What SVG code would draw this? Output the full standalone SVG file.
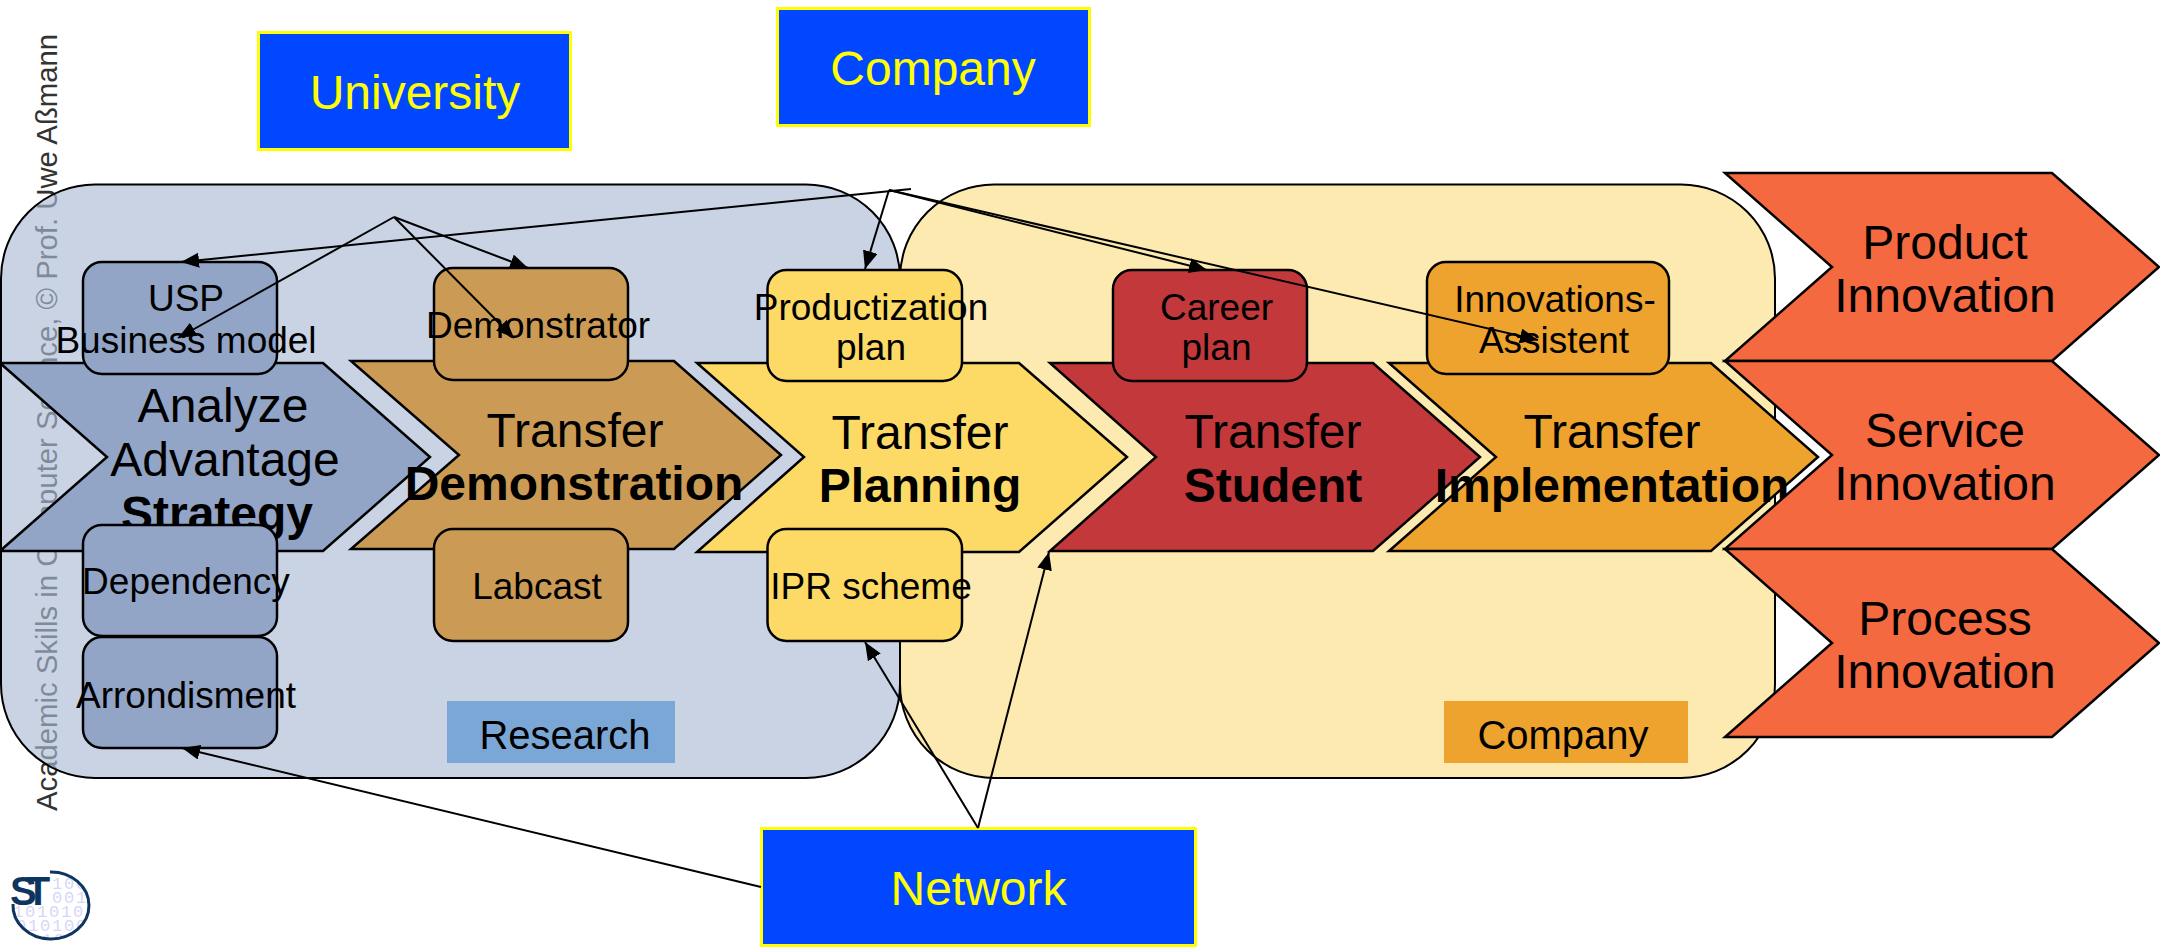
<svg xmlns="http://www.w3.org/2000/svg" width="2160" height="947" viewBox="0 0 2160 947">
<style>
text{font-family:"Liberation Sans",Arial,sans-serif;text-anchor:middle;fill:#000}
.big{font-size:48px}
.bold{font-weight:bold}
.small{font-size:37px}
.label{font-size:40px}
.box{stroke:#000;stroke-width:2.5}
.chev{stroke:#000;stroke-width:2.5;stroke-linejoin:miter}
.blue{fill:#92a5c6}
.brown{fill:#cb9b55}
.yellow{fill:#fdd966}
.red{fill:#c3383b}
.orange{fill:#eea32f}
.tomato{fill:#f4693f}
.actor{fill:#0047ff;stroke:#ffff00;stroke-width:3}
.actor-t{fill:#ffff00;font-size:48px}
.conn{fill:none;stroke:#000;stroke-width:2;marker-end:url(#head)}
.bin{font-family:"Liberation Mono",monospace;font-size:17px;letter-spacing:1.8px;fill:#d6d7fa;text-anchor:start}
</style>
<defs>
<marker id="head" markerUnits="userSpaceOnUse" markerWidth="20" markerHeight="18" refX="18" refY="7.500" orient="auto"><path d="M0,0 L18,7.500 L0,15 Z" fill="#000"/></marker>
<clipPath id="logoclip"><ellipse cx="51" cy="905.500" rx="38" ry="33.500"/></clipPath>
</defs>
<rect width="2160" height="947" fill="#fff"/>

<g id="sidebar">
<text transform="translate(57 811) rotate(-90)" font-size="29.300" style="text-anchor:start;fill:#333">Academic Skills in Computer Science, © Prof. Uwe Aßmann</text>
</g>
<g id="logo">
<g clip-path="url(#logoclip)">
<text class="bin" x="52" y="889">100</text>
<text class="bin" x="52" y="903">001</text>
<text class="bin" x="13" y="917">101010</text>
<text class="bin" x="16" y="931">010100</text>
<text class="bin" x="42" y="945">10</text>
</g>
<path d="M50,872 A38,33.500 0 1 1 13,904" fill="none" stroke="#0e3560" stroke-width="3"/>
<text x="10" y="905" font-size="40" class="bold" letter-spacing="-11" style="fill:#0e3560;text-anchor:start">ST</text>
</g>

<g id="region-research"><rect x="1" y="184.500" width="899" height="593.500" rx="94" ry="94" fill="#abbad5" fill-opacity="0.64" stroke="#000" stroke-width="2"/></g>
<g id="region-company"><rect x="900" y="184.500" width="875" height="593.500" rx="94" ry="94" fill="#fdeab0" stroke="#000" stroke-width="2"/></g>
<g id="label-research"><rect x="447" y="701" width="228" height="62" fill="#7ba7d7"/><text class="label" x="565" y="749">Research</text></g>
<g id="label-company"><rect x="1444" y="701" width="244" height="62" fill="#eea32f"/><text class="label" x="1563" y="749">Company</text></g>

<g id="step-analyze"><polygon class="chev blue" points="0,363 323,363 430,457 323,551 0,551 107,457"/><text class="big" x="223" y="422">Analyze</text><text class="big" x="225" y="476">Advantage</text><text class="big bold" x="217" y="530">Strategy</text></g>
<g id="step-demonstration"><polygon class="chev brown" points="351,361 674,361 781,455 674,549 351,549 459,455"/><text class="big" x="575" y="447">Transfer</text><text class="big bold" x="574" y="500">Demonstration</text></g>
<g id="step-planning"><polygon class="chev yellow" points="697,363 1019,363 1127,457 1019,552 697,552 804,457"/><text class="big" x="920" y="449">Transfer</text><text class="big bold" x="920" y="502">Planning</text></g>
<g id="step-student"><polygon class="chev red" points="1050,363 1373,363 1480,457 1373,551 1050,551 1156,457"/><text class="big" x="1273" y="448">Transfer</text><text class="big bold" x="1273" y="502">Student</text></g>
<g id="step-implementation"><polygon class="chev orange" points="1389,363 1711,363 1818,457 1711,551 1389,551 1496,457"/><text class="big" x="1612" y="448">Transfer</text><text class="big bold" x="1612" y="502">Implementation</text></g>

<g id="out-product"><polygon class="chev tomato" points="1725,173 2052,173 2159,267 2052,361 1725,361 1832,267"/><text class="big" x="1945" y="259">Product</text><text class="big" x="1945" y="312">Innovation</text></g>
<g id="out-service"><polygon class="chev tomato" points="1725,361 2052,361 2159,455 2052,549 1725,549 1832,455"/><text class="big" x="1945" y="447">Service</text><text class="big" x="1945" y="500">Innovation</text></g>
<g id="out-process"><polygon class="chev tomato" points="1725,549 2052,549 2159,643 2052,737 1725,737 1832,643"/><text class="big" x="1945" y="635">Process</text><text class="big" x="1945" y="688">Innovation</text></g>

<g id="box-usp"><rect class="box blue" x="83" y="262" width="194" height="112" rx="19"/><text class="small" x="186" y="311">USP</text><text class="small" x="186" y="353">Business model</text></g>
<g id="box-demonstrator"><rect class="box brown" x="434" y="268" width="194" height="112" rx="19"/><text class="small" x="538" y="338">Demonstrator</text></g>
<g id="box-dependency"><rect class="box blue" x="83" y="525" width="194" height="111" rx="19"/><text class="small" x="186" y="594">Dependency</text></g>
<g id="box-arrondisment"><rect class="box blue" x="83" y="637" width="194" height="111" rx="19"/><text class="small" x="186" y="708">Arrondisment</text></g>
<g id="box-labcast"><rect class="box brown" x="434" y="529" width="194" height="112" rx="19"/><text class="small" x="537" y="599">Labcast</text></g>
<g id="box-productization"><rect class="box yellow" x="767.500" y="270" width="194.500" height="111" rx="19"/><text class="small" x="871" y="320">Productization</text><text class="small" x="871" y="360">plan</text></g>
<g id="box-ipr"><rect class="box yellow" x="767.500" y="529" width="194.500" height="112" rx="19"/><text class="small" x="871" y="599">IPR scheme</text></g>
<g id="box-career"><rect class="box red" x="1113" y="270" width="194" height="111" rx="19"/><text class="small" x="1216.500" y="320">Career</text><text class="small" x="1216.500" y="360">plan</text></g>
<g id="box-innovations"><rect class="box orange" x="1427" y="262" width="242" height="112" rx="19"/><text class="small" x="1555" y="312">Innovations-</text><text class="small" x="1554" y="353">Assistent</text></g>

<g id="actor-university"><rect class="actor" x="258.500" y="32.500" width="312" height="117"/><text class="actor-t" x="415" y="109">University</text></g>
<g id="actor-company"><rect class="actor" x="777.500" y="8.500" width="312" height="117"/><text class="actor-t" x="933" y="85">Company</text></g>
<g id="actor-network"><rect class="actor" x="761.500" y="828.500" width="434" height="117"/><text class="actor-t" x="978.500" y="905">Network</text></g>

<g id="connectors">
<path class="conn" d="M394,217 L178,338"/>
<path class="conn" d="M394,217 L528,268"/>
<path class="conn" d="M394,217 L514,338"/>
<path class="conn" d="M911,189 L181,262"/>
<path class="conn" d="M889,190 L865,269"/>
<path class="conn" d="M889,190 L1207,270"/>
<path class="conn" d="M889,190 L1538,340"/>
<path class="conn" d="M978,828 L865,642"/>
<path class="conn" d="M978,828 L1049,552"/>
<path class="conn" d="M761,887 L182,748"/>
</g>
</svg>
